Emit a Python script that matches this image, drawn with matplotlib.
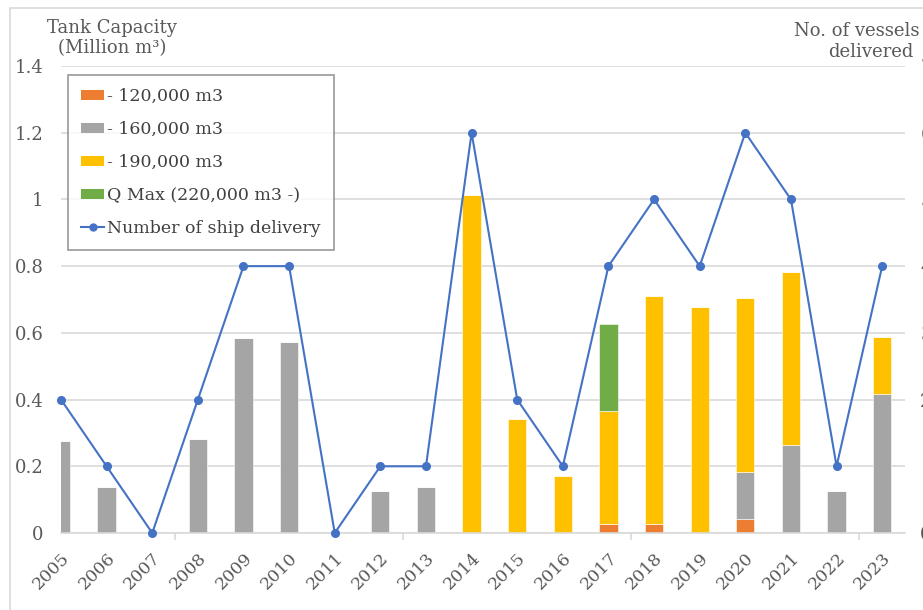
import numpy as np
import matplotlib as mpl
mpl.use('Agg')
import matplotlib.pyplot as plt
from matplotlib.patches import Patch, Rectangle
from matplotlib.lines import Line2D

plt.rcParams['font.family'] = 'DejaVu Serif'

years = [str(y) for y in range(2005, 2024)]
cap_120k = [0, 0, 0, 0, 0, 0, 0, 0, 0, 0, 0, 0, 0.026, 0.026, 0, 0.042, 0, 0, 0]
cap_160k = [0.277, 0.139, 0, 0.281, 0.586, 0.574, 0, 0.127, 0.139, 0, 0, 0, 0, 0, 0, 0.141, 0.265, 0.126, 0.418]
cap_190k = [0, 0, 0, 0, 0, 0, 0, 0, 0, 1.014, 0.341, 0.172, 0.340, 0.684, 0.677, 0.521, 0.517, 0, 0.170]
cap_qmax = [0, 0, 0, 0, 0, 0, 0, 0, 0, 0, 0, 0, 0.262, 0, 0, 0, 0, 0, 0]
ships = [2, 1, 0, 2, 4, 4, 0, 1, 1, 6, 2, 1, 4, 5, 4, 6, 5, 1, 4]

labels = ['- 120,000 m3', '- 160,000 m3', '- 190,000 m3', 'Q Max (220,000 m3 -)',
          'Number of ship delivery']
colors = ['#ED7D31', '#A5A5A5', '#FFC000', '#70AD47']
line_color = '#4472C4'
text_color = '#595959'
grid_color = '#D9D9D9'

fig = plt.figure(figsize=(9.23, 6.10), dpi=100)
ax = fig.add_axes([61 / 923, 1 - 533 / 610, (905 - 61) / 923, (533 - 66) / 610])
ax2 = ax.twinx()

x = np.arange(len(years))
bottom = np.zeros(len(years))
for vals, c in zip([cap_120k, cap_160k, cap_190k, cap_qmax], colors):
    ax.bar(x, vals, width=0.4, bottom=bottom, color=c, edgecolor='white',
           linewidth=0.4, zorder=2)
    bottom += np.array(vals)

ax2.plot(x, ships, color=line_color, lw=1.5, marker='o', ms=5.5, zorder=3,
         clip_on=False)

ax.set_xlim(0, 18.5)
ax.set_ylim(0, 1.4)
ax2.set_ylim(0, 7)
ax.set_yticks(np.arange(0, 1.41, 0.2))
ax.set_yticklabels(['0', '0.2', '0.4', '0.6', '0.8', '1', '1.2', '1.4'])
ax2.set_yticks(range(8))
ax.yaxis.grid(True, color=grid_color, lw=1.2, zorder=0)
ax.set_axisbelow(True)
for a in (ax, ax2):
    for s in a.spines.values():
        s.set_visible(False)
ax.spines['bottom'].set_visible(True)
ax.spines['bottom'].set_color(grid_color)
ax.spines['bottom'].set_linewidth(1.2)

ax.tick_params(axis='y', length=0, pad=12.5, labelsize=13, labelcolor=text_color)
ax2.tick_params(axis='y', length=0, pad=11, labelsize=13, labelcolor=text_color)
ax.set_xticks(x)
ax.set_xticklabels(years, rotation=45, ha='right', rotation_mode='anchor',
                   fontsize=12.5, color=text_color)
ax.tick_params(axis='x', length=0, pad=12)
ax.set_xticks(np.arange(0, 18, 2.5), minor=True)
ax.tick_params(axis='x', which='minor', length=5, color=grid_color, width=1.2)

fig.text(112 / 923, 1 - 28 / 610, 'Tank Capacity', ha='center', va='center',
         fontsize=13, color=text_color)
fig.text(112 / 923, 1 - 48 / 610, '(Million m³)', ha='center', va='center',
         fontsize=13, color=text_color)
fig.text(857 / 923, 1 - 31 / 610, 'No. of vessels', ha='center', va='center',
         fontsize=13, color=text_color)
fig.text(871 / 923, 1 - 52 / 610, 'delivered', ha='center', va='center',
         fontsize=13, color=text_color)

handles = [Patch(facecolor=c) for c in colors]
handles.append(Line2D([], [], color=line_color, lw=1.5, marker='o', ms=5))
leg = fig.legend(handles, labels, loc='upper left',
                 bbox_to_anchor=(68 / 923, 1 - 75 / 610), fontsize=12.5,
                 frameon=True, fancybox=False, edgecolor='#7F7F7F',
                 handlelength=1.35, handleheight=0.55, handletextpad=0.15,
                 labelspacing=0.92, borderpad=0.75, borderaxespad=0)
leg.get_frame().set_linewidth(1.2)
for t in leg.get_texts():
    t.set_color('#404040')

# outer chart border, cropped on right/bottom
fig.add_artist(Rectangle((10 / 923, -0.1), 1.2, 1 - 8 / 610 + 0.1,
                         transform=fig.transFigure, fill=False,
                         edgecolor=grid_color, lw=1.2))

fig.savefig('out.png', dpi=100)
